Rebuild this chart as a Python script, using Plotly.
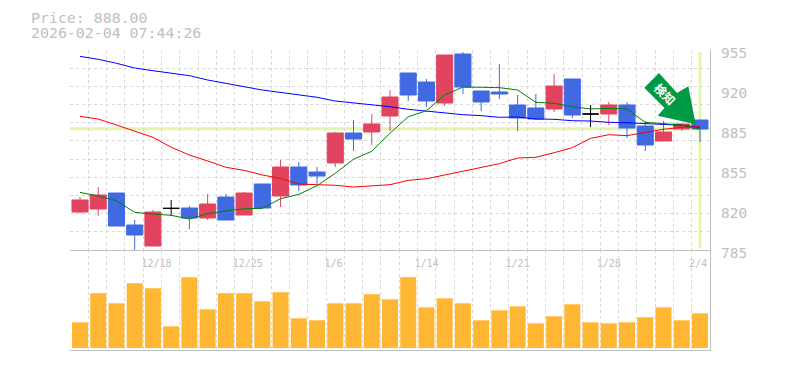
import plotly.graph_objects as go

idx = list(range(35))
opens = [817.3,819.85,833.45,806.25,788.4,820.4,820.7,812.2,830.0,814.75,841.1,830.9,855.55,851.3,859.0,884.45,885.3,898.9,935.45,927.8,909.95,951.6,920.15,919.3,908.25,905.7,904.85,930.35,900.6,900.6,908.25,890.4,877.65,887.85,895.5]
closes = [827.5,831.75,805.4,797.75,817.3,820.4,812.2,824.1,810.5,833.45,820.7,855.55,840.25,847.9,884.45,879.35,892.1,915.05,916.75,911.65,950.75,923.55,910.8,917.6,897.2,896.35,924.4,899.75,900.6,908.25,888.7,874.25,885.3,892.1,887.85]
highs = [830.0,838.55,833.45,810.5,819.0,827.5,822.4,832.6,832.6,834.3,841.1,861.5,859.8,855.55,885.3,895.5,900.6,921.0,935.45,930.35,950.75,953.3,920.15,943.1,916.75,917.6,934.6,930.35,908.25,910.8,910.8,894.65,894.65,892.6,895.5]
lows = [816.4,813.9,805.4,784.15,788.4,813.9,802.8,810.5,810.5,814.75,820.7,821.55,835.15,841.1,855.55,869.15,874.25,886.15,911.65,906.55,907.4,917.6,903.15,913.35,886.15,895.5,902.3,897.2,889.55,891.25,880.2,869.15,877.65,886.15,876.8]
doji_idx = [5, 28]
ma_short = [834.0,830.9,826.9,817.0,815.6,814.5,811.3,815.9,818.2,820.1,820.4,828.6,832.3,839.7,850.2,862.1,868.9,884.2,898.3,903.4,916.75,923.5,923.3,923.0,921.0,910.5,909.7,906.8,904.9,905.4,904.9,893.5,892.4,891.25,887.6]
ma_mid = [898.6,896.35,891.25,886.15,880.8,872.3,865.75,860.65,855.3,852.7,848.75,845.9,841.1,840.5,840.0,838.55,839.4,840.5,844.2,845.6,848.75,851.9,855.3,858.4,863.2,863.8,867.7,872.0,879.9,883.0,882.2,884.7,887.6,889.3,889.8]
ma_long = [949.6,947.1,943.7,939.7,937.4,935.2,933.2,929.5,926.4,923.8,921.0,919.0,916.75,914.8,911.65,910.2,908.25,906.8,904.6,902.9,901.45,900.0,899.2,897.8,898.05,896.35,896.1,894.9,894.65,893.5,893.2,892.4,891.5,891.0,889.3]
volumes = [25.7,54.7,44.7,64.7,59.7,21.7,70.7,38.7,54.7,54.7,46.7,55.7,29.7,27.7,44.7,44.7,53.7,48.7,70.7,40.7,49.7,44.7,27.7,37.7,41.7,24.7,31.7,43.7,25.7,24.7,25.7,30.7,40.7,27.7,34.7]
price_vals = [955,921,887,853,819,785]
price_labels = ["955","920","885","855","820","785"]
date_vals = [4.2,9.2,13.9,19.0,24.0,29.0,33.9]
date_labels = ["12/18","12/25","1/6","1/14","1/21","1/28","2/4"]
last_price = 888.0
title_lines = ["Price: 888.00", "2026-02-04 07:44:26"]
arrow_text = "検知"

MONO = "DejaVu Sans Mono"
GREY = "#c0c0c0"
GRID = "#d8d8d8"
RED = "#e2445f"
BLUE = "#4169e1"
LIME = "#e4f4a8"
ARROW = "#009944"

def px(x): return (x - 70) / 640
def py(y): return (350 - y) / 300

fig = go.Figure()
reg = [i for i in idx if i not in doji_idx]
fig.add_trace(go.Candlestick(
    x=reg, open=[opens[i] for i in reg], high=[highs[i] for i in reg],
    low=[lows[i] for i in reg], close=[closes[i] for i in reg],
    increasing=dict(line=dict(color=RED, width=1), fillcolor=RED),
    decreasing=dict(line=dict(color=BLUE, width=1), fillcolor=BLUE),
    whiskerwidth=0, showlegend=False, xaxis="x", yaxis="y"))
fig.add_trace(go.Candlestick(
    x=doji_idx, open=[opens[i] for i in doji_idx], high=[highs[i] for i in doji_idx],
    low=[lows[i] for i in doji_idx], close=[closes[i] for i in doji_idx],
    increasing=dict(line=dict(color="#000000", width=1), fillcolor="#000000"),
    decreasing=dict(line=dict(color="#000000", width=1), fillcolor="#000000"),
    whiskerwidth=0, showlegend=False, xaxis="x", yaxis="y"))
for vals, col in [(ma_long, "#0000ff"), (ma_mid, "#ff0000"), (ma_short, "#008000")]:
    fig.add_trace(go.Scatter(x=idx, y=vals, mode="lines", line=dict(color=col, width=1),
                             showlegend=False, xaxis="x", yaxis="y"))
fig.add_trace(go.Bar(x=idx, y=volumes, width=0.877, marker=dict(color="#ffb733", line=dict(width=0)),
                     showlegend=False, xaxis="x2", yaxis="y2"))

xr = [-0.548, 34.55]
minor_x = dict(tickmode="linear", tick0=-0.548, dtick=1.0029, showgrid=True, gridcolor=GRID,
               griddash="3px,3px", gridwidth=1, ticklen=0)
fig.update_layout(
    width=769, height=354, autosize=False,
    margin=dict(l=62, r=67, t=42, b=12),
    paper_bgcolor="white", plot_bgcolor="white",
    boxgap=0.12, boxgroupgap=0, bargap=0.12,
    hovermode=False,
    xaxis=dict(domain=[0, 1], range=xr, anchor="y", rangeslider=dict(visible=False),
               tickmode="array", tickvals=date_vals, ticktext=date_labels,
               tickfont=dict(family=MONO, size=10, color=GREY), ticklen=0,
               ticklabelstandoff=4, showgrid=False, zeroline=False,
               showline=True, linecolor=GREY, linewidth=1, minor=minor_x),
    xaxis2=dict(domain=[0, 1], range=xr, anchor="y2", showticklabels=False, ticklen=0,
                showgrid=False, zeroline=False, showline=True, linecolor=GREY, linewidth=1,
                tickmode="array", tickvals=date_vals, minor=minor_x),
    yaxis=dict(domain=[1/3, 1], range=[785, 955], side="right", anchor="x",
               tickmode="array", tickvals=price_vals, showticklabels=False, ticklen=0,
               showgrid=False, zeroline=False,
               showline=True, linecolor=GREY, linewidth=1,
               minor=dict(tickmode="linear", tick0=785, dtick=170/11, showgrid=True, gridcolor=GRID,
                          griddash="3px,3px", gridwidth=1, ticklen=0)),
    yaxis2=dict(domain=[0, 1/3], range=[-2, 98], side="right", anchor="x2", showticklabels=False,
                ticklen=0, showgrid=False, zeroline=False, showline=True, linecolor=GREY, linewidth=1),
)
fig.add_shape(type="line", xref="paper", x0=0, x1=1, yref="y", y0=last_price, y1=last_price,
              line=dict(color=LIME, width=3), layer="below")
fig.add_shape(type="line", xref="x", x0=34, x1=34, yref="paper", y0=py(248), y1=py(52),
              line=dict(color=LIME, width=3), layer="below")
pts = [(659,73),(644.3,87.7),(664.5,108),(657.7,115.7),(695.7,124.3),(688.3,86.3),(677,93)]
path = "M " + " L ".join(f"{px(x):.5f},{py(y):.5f}" for x, y in pts) + " Z"
fig.add_shape(type="path", path=path, xref="paper", yref="paper",
              fillcolor=ARROW, line=dict(width=0), layer="above")
fig.add_annotation(xref="paper", yref="paper", x=px(665), y=py(94), text=f"<b>{arrow_text}</b>",
                   textangle=45, showarrow=False, xanchor="center", yanchor="middle",
                   font=dict(family="Noto Sans CJK JP", size=12, color="white"))
for val, lab in zip(price_vals, price_labels):
    fig.add_annotation(xref="paper", yref="y", x=px(719), y=val, yshift=-3, text=lab, xanchor="left",
                       yanchor="middle", showarrow=False,
                       font=dict(family=MONO, size=14.5, color=GREY))
for line, yc in zip(title_lines, [18, 33]):
    fig.add_annotation(xref="paper", yref="paper", x=px(29), y=py(yc), text=line, xanchor="left",
                       yanchor="middle", showarrow=False,
                       font=dict(family=MONO, size=14.9, color=GREY))
fig.write_html("out.html")
